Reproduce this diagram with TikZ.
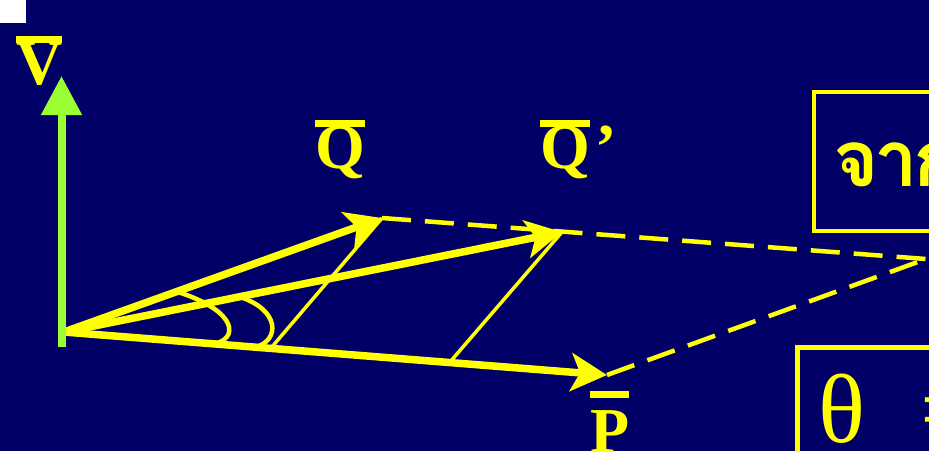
\documentclass[tikz,border=0pt]{standalone}
\usepackage{fontspec}
\setmainfont{Liberation Serif}
\newfontfamily\thaifont[Script=Thai,LetterSpace=-6]{Loma}
\usetikzlibrary{arrows.meta}
\definecolor{bg}{HTML}{000066}
\definecolor{yel}{HTML}{FFFF00}
\definecolor{grn}{HTML}{99FF33}
\newlength\barw
\newcommand\barred[2]{\settowidth\barw{#2}\makebox[0pt][l]{\rule[#1]{\barw}{0.11em}}#2}
\begin{document}
\begin{tikzpicture}[x=1pt,y=-1pt,
  thick vec/.style={draw=yel,line width=7.5pt,-{Stealth[length=36pt,width=38pt,inset=9pt]}},
  thin side/.style={draw=yel,line width=3.5pt},
  dash side/.style={draw=yel,line width=4.5pt,dash pattern=on 29pt off 14pt},
  angle arc/.style={draw=yel,line width=4.5pt},
  lbl/.style={text=yel,font=\fontsize{64}{68}\selectfont\bfseries,inner sep=0pt,anchor=base west},
  box/.style={draw=yel,line width=4.5pt}]
\useasboundingbox (0,0) rectangle (929,451);
\clip (0,0) rectangle (929,451);
\fill[bg] (0,0) rectangle (929,451);
\fill[white] (0,0) rectangle (26,23);
% coordinates
\coordinate (O) at (64,332);
\coordinate (Vtip) at (61.5,76);
\coordinate (Vbot) at (61.5,347);
\coordinate (Ptip) at (607,375);
\coordinate (Qtip) at (382,218);
\coordinate (Q2tip) at (562,232);
\coordinate (R) at (926,259);
\coordinate (A) at (271,348);
\coordinate (B) at (450,362);
% boxes
\draw[box] (814,92) rectangle (960,231);
\draw[box] (797.5,347.5) rectangle (960,480);
\node[text=yel,inner sep=0pt,anchor=base west,font=\thaifont\fontsize{78}{80}\selectfont\bfseries] (thai) at (833,186) {จาก};
\node[text=yel,inner sep=0pt,anchor=base west,font=\fontsize{98}{100}\selectfont] (theta) at (818,442) {θ\hspace{55pt}=};
% dashed
\draw[dash side] (Qtip) -- (R);
\draw[dash side] (Ptip) -- (R);
% thin sides
\draw[thin side] (Qtip) -- (A);
\draw[thin side] (Q2tip) -- (B);
% arcs
\draw[angle arc] (178,292) .. controls (240,312) and (238,340) .. (213,344);
\draw[angle arc] (240,297) .. controls (280,310) and (280,340) .. (256,347);
% vectors
\draw[thick vec] (O) -- (Qtip);
\draw[thick vec] (O) -- (Q2tip);
\draw[thick vec] (O) -- (Ptip);
\draw[draw=grn,line width=8pt,-{Triangle[length=39pt,width=39pt]}] (Vbot) -- (Vtip);
% labels
\node[lbl] (V) at (16,84) {\barred{0.64em}{V}};
\node[lbl] (Q) at (315,168) {\barred{0.64em}{Q}};
\node[lbl] (Q2) at (540,168) {\barred{0.64em}{Q}\hspace{6pt}’};
\node[lbl] (P) at (590,452) {\barred{0.85em}{P}};
\end{tikzpicture}
\end{document}
